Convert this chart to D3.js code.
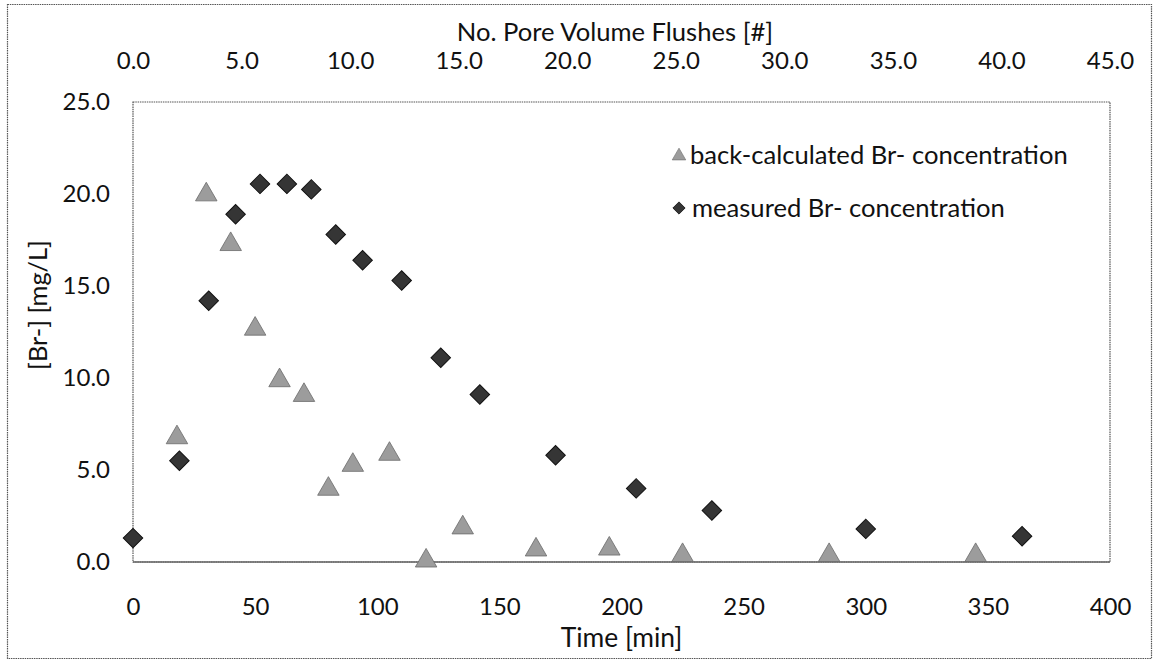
<!DOCTYPE html>
<html>
<head>
<meta charset="utf-8">
<script src="https://cdn.jsdelivr.net/npm/d3@7"></script>
<style>
  html, body { margin: 0; padding: 0; background: #fff; }
  svg { display: block; }
  text { font-family: Lato, "Open Sans", sans-serif; fill: #111; }
</style>
</head>
<body>
<svg id="chart" width="1156" height="662"></svg>
<script>
// ---- data ----
const calcTime = [18, 30, 40, 50, 60, 70, 80, 90, 105, 120, 135, 165, 195, 225, 285, 345];
const calcConc = [6.9, 20.1, 17.4, 12.8, 10.0, 9.2, 4.1, 5.4, 6.0, 0.2, 2.0, 0.8, 0.85, 0.5, 0.5, 0.5];
const measTime = [0, 19, 31, 42, 52, 63, 73, 83, 94, 110, 126, 142, 173, 206, 237, 300, 364];
const measConc = [1.3, 5.5, 14.2, 18.9, 20.55, 20.55, 20.25, 17.8, 16.4, 15.3, 11.1, 9.1, 5.8, 4.0, 2.8, 1.8, 1.4];
const timeTicks = [0, 50, 100, 150, 200, 250, 300, 350, 400];
const poreTicks = [0, 5, 10, 15, 20, 25, 30, 35, 40, 45];
const concTicks = [0, 5, 10, 15, 20, 25];
const seriesNames = ["back-calculated Br- concentration", "measured Br- concentration"];

// ---- layout ----
const svg = d3.select("#chart");
const L = 133, R = 1110, T = 102, B = 562;
const x = d3.scaleLinear().domain([0, 400]).range([L, R]);
const xTop = d3.scaleLinear().domain([0, 45]).range([L, R]);
const y = d3.scaleLinear().domain([0, 25]).range([B, T]);

// outer border
svg.append("rect").attr("x", 7.5).attr("y", 4.5).attr("width", 1144).attr("height", 654)
  .attr("fill", "none").attr("stroke", "#555").attr("stroke-width", 1.2).attr("stroke-dasharray", "1.5,0.8");

// plot frame
svg.append("rect").attr("x", L).attr("y", T).attr("width", R - L).attr("height", B - T)
  .attr("fill", "none").attr("stroke", "#555").attr("stroke-width", 1.2).attr("stroke-dasharray", "1.5,0.8");
svg.append("line").attr("x1", L).attr("x2", R).attr("y1", B).attr("y2", B)
  .attr("stroke", "#666").attr("stroke-width", 1.5);

const fs = 24;

// bottom axis
const gb = svg.append("g").attr("transform", `translate(0,${B})`)
  .call(d3.axisBottom(x).tickValues(timeTicks).tickSize(0).tickPadding(36).tickFormat(d3.format("d")));
gb.select(".domain").remove();
gb.selectAll("text").attr("font-size", fs).attr("font-family", "Lato").attr("fill", "#111");

// top axis
const gt = svg.append("g").attr("transform", `translate(0,${T})`)
  .call(d3.axisTop(xTop).tickValues(poreTicks).tickSize(0).tickPadding(33).tickFormat(d3.format(".1f")));
gt.select(".domain").remove();
gt.selectAll("text").attr("font-size", fs).attr("font-family", "Lato").attr("fill", "#111");

// left axis
const gl = svg.append("g").attr("transform", `translate(${L},0)`)
  .call(d3.axisLeft(y).tickValues(concTicks).tickSize(0).tickPadding(23).tickFormat(d3.format(".1f")));
gl.select(".domain").remove();
gl.selectAll("text").attr("font-size", fs).attr("font-family", "Lato").attr("fill", "#111");

// axis titles
svg.append("text").attr("x", (L + R) / 2).attr("y", 647).attr("text-anchor", "middle")
  .attr("font-size", 26.4).text("Time [min]");
svg.append("text").attr("x", 615).attr("y", 41).attr("text-anchor", "middle")
  .attr("font-size", 25.6).text("No. Pore Volume Flushes [#]");
svg.append("text").attr("transform", "translate(47,305) rotate(-90)").attr("text-anchor", "middle")
  .attr("font-size", 25.4).text("[Br-] [mg/L]");

// markers
const tri = d3.symbol().type(d3.symbolTriangle).size(200);
const dia = d3.symbol().type(d3.symbolSquare).size(190);
const triColor = "#9c9c9c", triStroke = "#6a6a6a";
const diaColor = "#353535", diaStroke = "#111";

svg.append("g").selectAll("path").data(calcTime.map((t, i) => [t, calcConc[i]])).join("path")
  .attr("d", tri)
  .attr("transform", d => `translate(${x(d[0])},${y(d[1]) + 2.5})`)
  .attr("fill", triColor).attr("stroke", triStroke).attr("stroke-width", 0.8);

svg.append("g").selectAll("path").data(measTime.map((t, i) => [t, measConc[i]])).join("path")
  .attr("d", dia)
  .attr("transform", d => `translate(${x(d[0])},${y(d[1])}) rotate(45)`)
  .attr("fill", diaColor).attr("stroke", diaStroke).attr("stroke-width", 1);

// legend
const lg = svg.append("g");
lg.append("path").attr("d", d3.symbol().type(d3.symbolTriangle).size(80))
  .attr("transform", "translate(679,156)").attr("fill", triColor).attr("stroke", triStroke).attr("stroke-width", 0.6);
lg.append("text").attr("x", 690).attr("y", 164).attr("font-size", 25.6).text(seriesNames[0]);
lg.append("path").attr("d", d3.symbol().type(d3.symbolSquare).size(75))
  .attr("transform", "translate(679,208) rotate(45)").attr("fill", diaColor).attr("stroke", diaStroke).attr("stroke-width", 0.8);
lg.append("text").attr("x", 692).attr("y", 217).attr("font-size", 25.6).text(seriesNames[1]);
</script>
</body>
</html>
